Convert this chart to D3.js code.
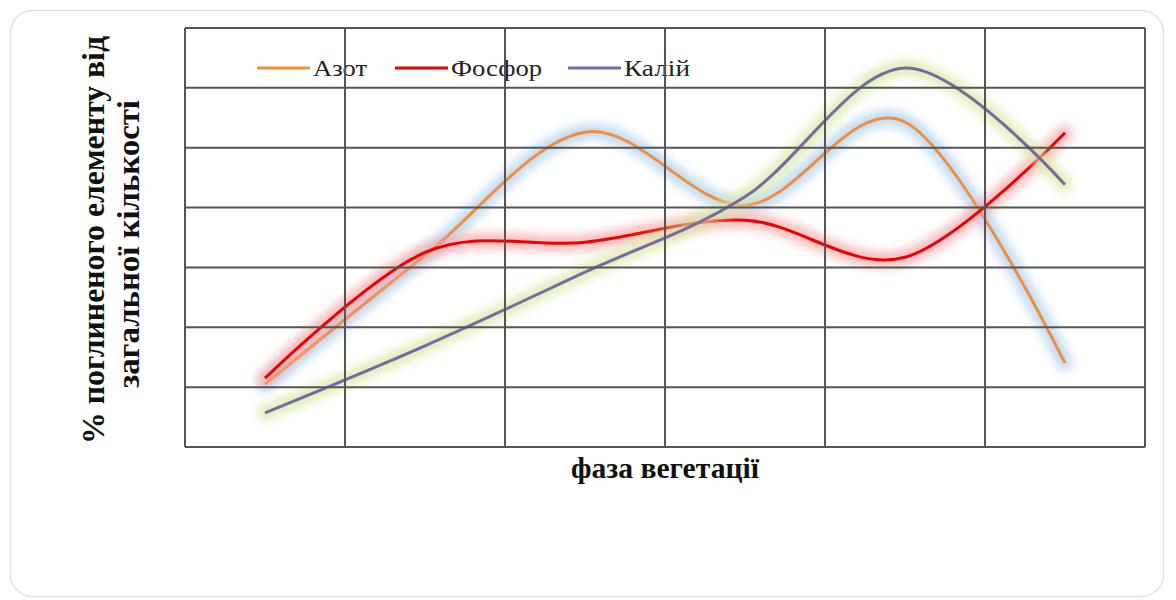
<!DOCTYPE html>
<html>
<head>
<meta charset="utf-8">
<script src="https://cdn.jsdelivr.net/npm/d3@7"></script>
<style>
  body { margin: 0; background: #fff; }
  text { font-family: "Liberation Serif", "Times New Roman", serif; }
</style>
</head>
<body>
<script>
// фази вегетації (підписів на осі немає)
var phases = ["1", "2", "3", "4", "5", "6"];
var azot   = [1.05, 3.2, 5.26, 4.04, 5.43, 1.4];
var fosfor = [1.15, 3.25, 3.42, 3.79, 3.17, 5.25];
var kaliy  = [0.57, 1.69, 2.92, 4.18, 6.33, 4.38];
var seriesNames = ["Азот", "Фосфор", "Калій"];
var lineColors = ["#f28e3a", "#f20000", "#7d66a6"];
var glowColors = ["#a9cdf0", "#f7a0a0", "#d3ea9c"];
var yTicks = [0, 1, 2, 3, 4, 5, 6, 7];

var W = 1176, H = 600;
var margin = {top: 28, right: 31, bottom: 153, left: 185};
var width = W - margin.left - margin.right;
var height = H - margin.top - margin.bottom;

var svg = d3.select("body")
    .append("svg")
    .attr("width", W)
    .attr("height", H);

// рамка навколо всього рисунка
svg.append("rect")
    .attr("x", 10.5).attr("y", 10.5)
    .attr("width", 1153).attr("height", 586)
    .attr("rx", 22)
    .attr("fill", "#fff")
    .attr("stroke", "#e2e2e2")
    .attr("stroke-width", 1.5);

var defs = svg.append("defs");
defs.append("filter")
    .attr("id", "glow")
    .attr("x", "-20%").attr("y", "-40%")
    .attr("width", "140%").attr("height", "180%")
    .append("feGaussianBlur")
    .attr("stdDeviation", 5);

var g = svg.append("g")
    .attr("transform", `translate(${margin.left}, ${margin.top})`);

var x = d3.scalePoint()
    .domain(phases)
    .range([0, width])
    .padding(0.5);

var xBand = d3.scaleBand()
    .domain(phases)
    .range([0, width]);

var y = d3.scaleLinear()
    .domain([0, 7])
    .range([height, 0]);

var data = [azot, fosfor, kaliy];

var line = d3.line()
    .x((d, i) => x(phases[i]))
    .y(d => y(d))
    .curve(d3.curveCardinal.tension(0));

data.forEach((vals, k) => {
    g.append("path")
        .datum(vals)
        .attr("d", line)
        .attr("fill", "none")
        .attr("stroke", glowColors[k])
        .attr("stroke-width", 16)
        .attr("stroke-linecap", "round")
        .attr("opacity", 0.7)
        .attr("filter", "url(#glow)");
    g.append("path")
        .datum(vals)
        .attr("d", line)
        .attr("fill", "none")
        .attr("stroke", lineColors[k])
        .attr("stroke-width", 3);
});

// легенда
var legendX = [72, 210, 383];
var legend = g.selectAll(".legend")
    .data(seriesNames)
    .enter().append("g")
    .attr("transform", (d, i) => `translate(${legendX[i]}, 40)`);

legend.append("line")
    .attr("x1", 0).attr("x2", 53)
    .attr("stroke", (d, i) => lineColors[i])
    .attr("stroke-width", 3);

legend.append("text")
    .attr("x", 56)
    .attr("y", 8)
    .attr("font-size", 24)
    .attr("fill", "#222")
    .attr("textLength", (d, i) => [54, 91, 66][i])
    .attr("lengthAdjust", "spacingAndGlyphs")
    .text(d => d);

// сітка поверх ліній
var grid = g.append("g")
    .attr("stroke", "#555")
    .attr("stroke-width", 2);

grid.selectAll(".h")
    .data(yTicks)
    .enter().append("line")
    .attr("x1", 0).attr("x2", width)
    .attr("y1", d => y(d)).attr("y2", d => y(d));

var vLines = phases.map(p => xBand(p)).concat([width]);
grid.selectAll(".v")
    .data(vLines)
    .enter().append("line")
    .attr("x1", d => d).attr("x2", d => d)
    .attr("y1", 0).attr("y2", height);

// підписи осей
g.append("text")
    .attr("x", width / 2)
    .attr("y", height + 31)
    .attr("text-anchor", "middle")
    .attr("font-size", 29)
    .attr("font-weight", "bold")
    .attr("fill", "#111")
    .attr("textLength", 188)
    .attr("lengthAdjust", "spacingAndGlyphs")
    .text("фаза вегетації");

var yTitle = svg.append("text")
    .attr("transform", "translate(0, 240) rotate(-90)")
    .attr("text-anchor", "middle")
    .attr("font-size", 31)
    .attr("font-weight", "bold")
    .attr("fill", "#111");
yTitle.append("tspan").attr("x", 0).attr("y", 104)
    .attr("textLength", 408).attr("lengthAdjust", "spacingAndGlyphs")
    .text("% поглиненого елементу від");
yTitle.append("tspan").attr("x", -4).attr("y", 139)
    .attr("textLength", 288).attr("lengthAdjust", "spacingAndGlyphs")
    .text("загальної кількості");
</script>
</body>
</html>
